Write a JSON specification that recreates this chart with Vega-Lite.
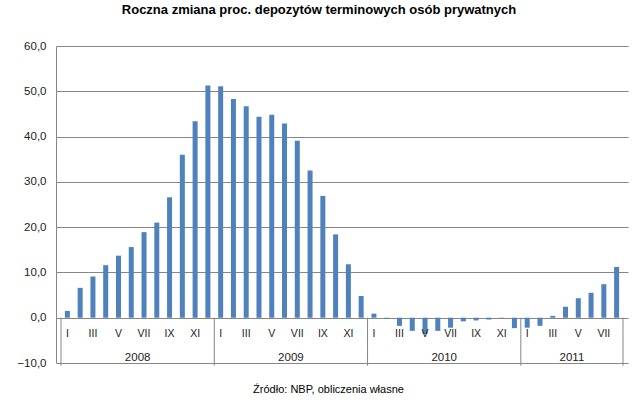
{
  "$schema": "https://vega.github.io/schema/vega-lite/v6.json",
  "width": 572,
  "height": 317,
  "autosize": "none",
  "padding": {"left": 56, "top": 46, "right": 12, "bottom": 39},
  "background": "white",
  "title": {"text": "Roczna zmiana proc. depozytów terminowych osób prywatnych", "font": "Liberation Sans", "fontSize": 13, "fontWeight": "bold", "color": "#000", "offset": 23, "dx": -23, "anchor": "middle"},
  "config": {"view": {"stroke": null}, "font": "Liberation Sans"},
  "datasets": {
    "m": [
      {"i": 1, "rok": "2008", "mies": "I", "v": 1.5},
      {"i": 2, "rok": "2008", "mies": "II", "v": 6.6},
      {"i": 3, "rok": "2008", "mies": "III", "v": 9.1},
      {"i": 4, "rok": "2008", "mies": "IV", "v": 11.6},
      {"i": 5, "rok": "2008", "mies": "V", "v": 13.7},
      {"i": 6, "rok": "2008", "mies": "VI", "v": 15.6},
      {"i": 7, "rok": "2008", "mies": "VII", "v": 18.9},
      {"i": 8, "rok": "2008", "mies": "VIII", "v": 21.0},
      {"i": 9, "rok": "2008", "mies": "IX", "v": 26.6},
      {"i": 10, "rok": "2008", "mies": "X", "v": 36.0},
      {"i": 11, "rok": "2008", "mies": "XI", "v": 43.4},
      {"i": 12, "rok": "2008", "mies": "XII", "v": 51.3},
      {"i": 13, "rok": "2009", "mies": "I", "v": 51.1},
      {"i": 14, "rok": "2009", "mies": "II", "v": 48.3},
      {"i": 15, "rok": "2009", "mies": "III", "v": 46.7},
      {"i": 16, "rok": "2009", "mies": "IV", "v": 44.4},
      {"i": 17, "rok": "2009", "mies": "V", "v": 44.8},
      {"i": 18, "rok": "2009", "mies": "VI", "v": 42.9},
      {"i": 19, "rok": "2009", "mies": "VII", "v": 39.1},
      {"i": 20, "rok": "2009", "mies": "VIII", "v": 32.5},
      {"i": 21, "rok": "2009", "mies": "IX", "v": 26.9},
      {"i": 22, "rok": "2009", "mies": "X", "v": 18.4},
      {"i": 23, "rok": "2009", "mies": "XI", "v": 11.8},
      {"i": 24, "rok": "2009", "mies": "XII", "v": 4.8},
      {"i": 25, "rok": "2010", "mies": "I", "v": 0.9},
      {"i": 26, "rok": "2010", "mies": "II", "v": -0.2},
      {"i": 27, "rok": "2010", "mies": "III", "v": -1.8},
      {"i": 28, "rok": "2010", "mies": "IV", "v": -2.9},
      {"i": 29, "rok": "2010", "mies": "V", "v": -3.6},
      {"i": 30, "rok": "2010", "mies": "VI", "v": -2.9},
      {"i": 31, "rok": "2010", "mies": "VII", "v": -2.2},
      {"i": 32, "rok": "2010", "mies": "VIII", "v": -0.8},
      {"i": 33, "rok": "2010", "mies": "IX", "v": -0.6},
      {"i": 34, "rok": "2010", "mies": "X", "v": -0.4},
      {"i": 35, "rok": "2010", "mies": "XI", "v": -0.1},
      {"i": 36, "rok": "2010", "mies": "XII", "v": -2.3},
      {"i": 37, "rok": "2011", "mies": "I", "v": -2.2},
      {"i": 38, "rok": "2011", "mies": "II", "v": -1.8},
      {"i": 39, "rok": "2011", "mies": "III", "v": 0.4},
      {"i": 40, "rok": "2011", "mies": "IV", "v": 2.4},
      {"i": 41, "rok": "2011", "mies": "V", "v": 4.3},
      {"i": 42, "rok": "2011", "mies": "VI", "v": 5.5},
      {"i": 43, "rok": "2011", "mies": "VII", "v": 7.4},
      {"i": 44, "rok": "2011", "mies": "VIII", "v": 11.2}
    ],
    "sep": [{"x": 0.5}, {"x": 12.5}, {"x": 24.5}, {"x": 36.5}, {"x": 44.5}]
  },
  "layer": [
    {
      "data": {"name": "m"},
      "mark": {"type": "bar", "size": 5, "color": "#4F81BD"},
      "encoding": {
        "x": {"field": "i", "type": "quantitative", "scale": {"domain": [0.5, 44.5], "nice": false, "zero": false},
          "axis": {"grid": false, "labels": false, "ticks": false, "domain": false, "title": "Źródło: NBP, obliczenia własne", "titleFont": "Liberation Sans", "titleFontSize": 11, "titleFontWeight": "normal", "titleColor": "#000", "titleX": 272, "titleY": 20, "titleBaseline": "top"}},
        "y": {"field": "v", "type": "quantitative", "scale": {"domain": [-10, 60], "nice": false},
          "axis": {"title": null, "values": [-10, 0, 10, 20, 30, 40, 50, 60], "labelExpr": "replace(format(datum.value, '.1f'), '.', ',')", "grid": true, "gridColor": "#868686", "gridOpacity": 1, "domainColor": "#868686", "ticks": false, "labelPadding": 10, "labelFontSize": 11.5, "labelColor": "#222", "labelFont": "Liberation Sans"}}
      }
    },
    {
      "data": {"name": "m"},
      "transform": [{"filter": "datum.i % 2 == 1"}],
      "mark": {"type": "text", "fontSize": 10.5, "color": "#222", "baseline": "middle", "font": "Liberation Sans"},
      "encoding": {
        "x": {"field": "i", "type": "quantitative", "title": "Źródło: NBP, obliczenia własne"},
        "y": {"datum": -3.5, "type": "quantitative"},
        "text": {"field": "mies"}
      }
    },
    {
      "data": {"name": "m"},
      "mark": {"type": "text", "fontSize": 11.5, "color": "#222", "baseline": "middle", "font": "Liberation Sans"},
      "encoding": {
        "x": {"aggregate": "mean", "field": "i", "type": "quantitative", "title": "Źródło: NBP, obliczenia własne"},
        "y": {"datum": -8.9, "type": "quantitative"},
        "detail": {"field": "rok"},
        "text": {"field": "rok"}
      }
    },
    {
      "data": {"name": "sep"},
      "mark": {"type": "rule", "color": "#868686"},
      "encoding": {
        "x": {"field": "x", "type": "quantitative", "title": "Źródło: NBP, obliczenia własne"},
        "y": {"datum": -10.6, "type": "quantitative"},
        "y2": {"datum": 0}
      }
    }
  ]
}
